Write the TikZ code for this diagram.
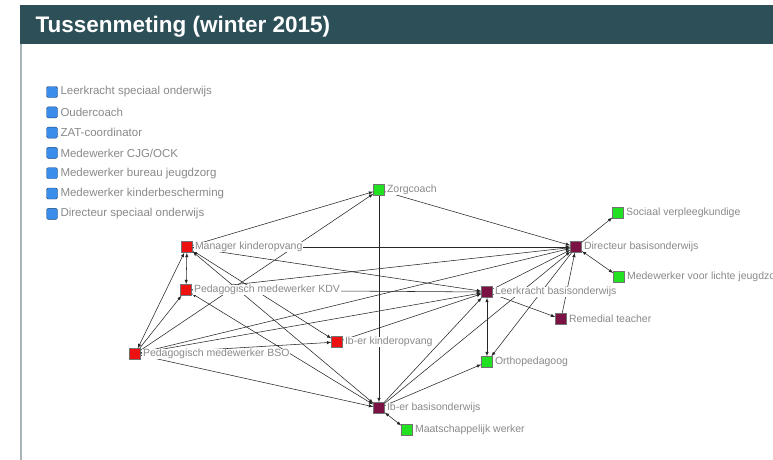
\documentclass[tikz,border=0pt]{standalone}
\usepackage{fontspec}
\setmainfont{Liberation Sans}
\usetikzlibrary{arrows,positioning}
\definecolor{hdrteal}{HTML}{2D4F58}
\definecolor{nred}{HTML}{EE1111}
\definecolor{ngreen}{HTML}{22E022}
\definecolor{nmaroon}{HTML}{7A1243}
\definecolor{nblue}{HTML}{3A8DEB}
\definecolor{labgray}{HTML}{8A8A8A}
\definecolor{rulegray}{HTML}{A9B4BA}
\newcommand{\labfont}{\fontsize{10.5}{12}\selectfont}
\newcommand{\legfont}{\fontsize{11.5}{13}\selectfont}

\begin{document}
\begin{tikzpicture}[x=1pt,y=-1pt,>=latex]
\tikzset{
  sq/.style={rectangle, draw=black!55, minimum size=11pt, inner sep=0pt},
  lab/.style={text=labgray, fill=white, inner sep=0.6pt, font=\labfont},
  ln/.style={black!85, line width=0.55pt}
}
\useasboundingbox (0,0) rectangle (773,460);
%header band and left rule
\fill[hdrteal] (20,5) rectangle (773,44);
\node[anchor=base west, text=white, font=\fontsize{22.5}{26}\bfseries\selectfont] (title) at (32,33) {Tussenmeting (winter 2015)};
\draw[rulegray, line width=1.6pt] (21,44) -- (21,460);
%legend
\foreach \t [count=\i] in {Leerkracht speciaal onderwijs, Oudercoach, ZAT-coordinator, Medewerker CJG/OCK, Medewerker bureau jeugdzorg, Medewerker kinderbescherming, Directeur speciaal onderwijs}
{
  \node[sq, fill=nblue, draw=nblue!50!black, rounded corners=1.5pt] (lg\i) at (52,71.7+20.3*\i) {};
  \node[lab, font=\legfont, right=2pt of lg\i] (lgt\i) {\t};
}
%actors
\node[sq, fill=ngreen] (zc) at (379,190) {};
\node[sq, fill=nred] (mk) at (187,247) {};
\node[sq, fill=nmaroon] (db) at (576,247) {};
\node[sq, fill=ngreen] (sv) at (618,213) {};
\node[sq, fill=ngreen] (mj) at (619,277) {};
\node[sq, fill=nred] (kdv) at (186,290) {};
\node[sq, fill=nmaroon] (lb) at (487,292) {};
\node[sq, fill=nmaroon] (rt) at (561,319) {};
\node[sq, fill=nred] (ik) at (337,342) {};
\node[sq, fill=nred] (bso) at (135,354) {};
\node[sq, fill=ngreen] (op) at (487,362) {};
\node[sq, fill=nmaroon] (ib) at (379,408) {};
\node[sq, fill=ngreen] (mw) at (407,430) {};
%ties
\foreach \a/\b in {mk/zc, bso/zc, zc/ib, mk/db, mk/lb, bso/kdv, bso/lb, bso/db, bso/ik, kdv/db, kdv/lb, ik/lb, lb/db, rt/db, ib/lb, ib/db, ib/op, db/op, db/sv}
  \draw[ln,->] (\a) -- (\b);
\foreach \a/\b in {zc/db, mk/kdv, mk/ik, mk/ib, bso/mk, bso/ib, kdv/ib, lb/op, lb/rt, ib/mw, db/mj}
  \draw[ln,<->] (\a) -- (\b);
%labels on top
\node[lab, right=1.5pt of zc] (tzc) {Zorgcoach};
\node[lab, right=1.5pt of mk] (tmk) {Manager kinderopvang};
\node[lab, right=1.5pt of db] (tdb) {Directeur basisonderwijs};
\node[lab, right=1.5pt of sv] (tsv) {Sociaal verpleegkundige};
\node[lab, right=1.5pt of mj] (tmj) {Medewerker voor lichte jeugdzorg};
\node[lab, right=1.5pt of kdv] (tkdv) {Pedagogisch medewerker KDV};
\node[lab, right=1.5pt of lb] (tlb) {Leerkracht basisonderwijs};
\node[lab, right=1.5pt of rt] (trt) {Remedial teacher};
\node[lab, right=1.5pt of ik] (tik) {Ib-er kinderopvang};
\node[lab, right=1.5pt of bso] (tbso) {Pedagogisch medewerker BSO};
\node[lab, right=1.5pt of op] (top) {Orthopedagoog};
\node[lab, right=1.5pt of ib] (tib) {Ib-er basisonderwijs};
\node[lab, right=1.5pt of mw] (tmw) {Maatschappelijk werker};
\end{tikzpicture}
\end{document}
